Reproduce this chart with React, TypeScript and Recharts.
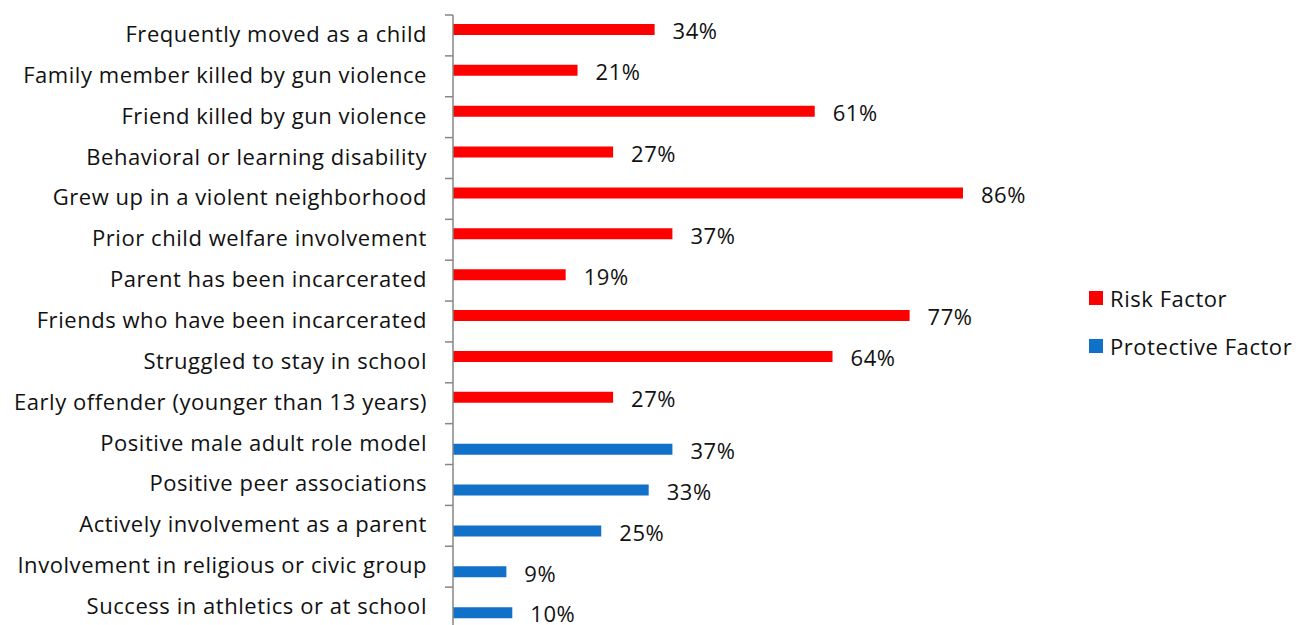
import React from 'react';
import { BarChart, Bar, XAxis, YAxis, LabelList } from 'recharts';

const categories = [
  'Frequently moved as a child',
  'Family member killed by gun violence',
  'Friend killed by gun violence',
  'Behavioral or learning disability',
  'Grew up in a violent neighborhood',
  'Prior child welfare involvement',
  'Parent has been incarcerated',
  'Friends who have been incarcerated',
  'Struggled to stay in school',
  'Early offender (younger than 13 years)',
  'Positive male adult role model',
  'Positive peer associations',
  'Actively involvement as a parent',
  'Involvement in religious or civic group',
  'Success in athletics or at school',
];

const riskValues = [0.34, 0.21, 0.61, 0.27, 0.86, 0.37, 0.19, 0.77, 0.64, 0.27, null, null, null, null, null];
const protectiveValues = [null, null, null, null, null, null, null, null, null, null, 0.37, 0.33, 0.25, 0.09, 0.1];

const RED = '#ff0000';
const BLUE = '#1170c8';
const AXIS_GREY = '#868686';
const FONT = '"Open Sans", sans-serif';
const FS = 22;
const LS = 0.55;

const data = categories.map((name, i) => ({
  name,
  risk: riskValues[i],
  protective: protectiveValues[i],
}));

const W = 1299;
const H = 640;
const TOP = 15;
const BOTTOM = 12;
const AXIS_X = 453;
const RIGHT = 253;
const BAND = (H - TOP - BOTTOM) / categories.length;

const pct = (v: any) => (v == null ? '' : `${Math.round(v * 100)}%`);

function CategoryTick(props: any) {
  const { x, y, payload, index } = props;
  const top = y - BAND / 2;
  return (
    <g>
      <line x1={AXIS_X - 8} x2={AXIS_X} y1={top} y2={top} stroke={AXIS_GREY} strokeWidth={1.5} />
      {index === categories.length - 1 && (
        <line x1={AXIS_X - 8} x2={AXIS_X} y1={top + BAND} y2={top + BAND} stroke={AXIS_GREY} strokeWidth={1.5} />
      )}
      <text
        x={x - 18}
        y={y}
        dy={6.5}
        textAnchor="end"
        fontFamily={FONT}
        fontSize={FS}
        letterSpacing={LS}
        fill="#111"
      >
        {payload.value}
      </text>
    </g>
  );
}

function Legend() {
  const items = [
    { label: 'Risk Factor', color: RED, top: 290 },
    { label: 'Protective Factor', color: BLUE, top: 338 },
  ];
  return (
    <>
      {items.map((it) => (
        <div
          key={it.label}
          style={{ position: 'absolute', left: 1089, top: it.top, display: 'flex', alignItems: 'center' }}
        >
          <div style={{ width: 14, height: 14, background: it.color, marginRight: 7 }} />
          <span
            style={{ fontFamily: FONT, fontSize: FS, letterSpacing: LS, color: '#111', lineHeight: '16px' }}
          >
            {it.label}
          </span>
        </div>
      ))}
    </>
  );
}

const labelStyle = { fontFamily: FONT, fontSize: FS, letterSpacing: LS, fill: '#111' };

export default function App() {
  return (
    <div style={{ position: 'absolute', left: 0, top: 0, width: W, height: 625, overflow: 'hidden', background: '#fff' }}>
      <BarChart
        width={W}
        height={H}
        data={data}
        layout="vertical"
        margin={{ top: TOP, right: RIGHT, bottom: BOTTOM, left: 0 }}
        barGap={0}
        barCategoryGap={0}
      >
        <XAxis type="number" domain={[0, 1]} hide />
        <YAxis
          type="category"
          dataKey="name"
          width={AXIS_X}
          axisLine={{ stroke: AXIS_GREY, strokeWidth: 1.5 }}
          tickLine={false}
          tick={<CategoryTick />}
          interval={0}
        />
        <Bar dataKey="risk" fill={RED} barSize={11} isAnimationActive={false}>
          <LabelList dataKey="risk" position="right" offset={18} dy={2} formatter={pct} style={labelStyle} />
        </Bar>
        <Bar dataKey="protective" fill={BLUE} barSize={11} isAnimationActive={false}>
          <LabelList dataKey="protective" position="right" offset={18} dy={2} formatter={pct} style={labelStyle} />
        </Bar>
      </BarChart>
      <Legend />
    </div>
  );
}
